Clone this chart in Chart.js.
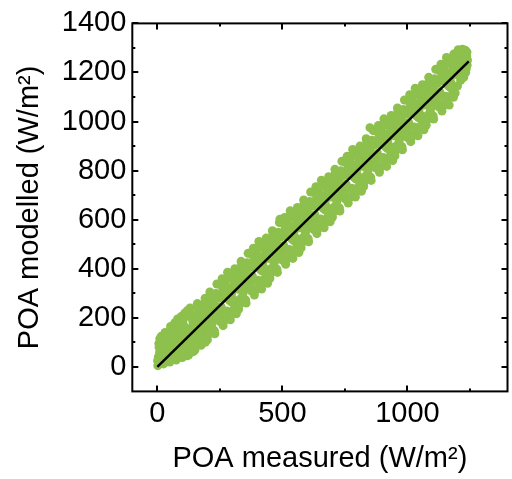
<!DOCTYPE html>
<html>
<head>
<meta charset="utf-8">
<script src="https://cdn.jsdelivr.net/npm/chart.js@4"></script>
<style>
  html, body { margin: 0; padding: 0; background: #fff; }
  #poaChart { display: block; }
</style>
</head>
<body>
<canvas id="poaChart" width="512" height="479"></canvas>
<script>
// POA measured vs modelled (W/m2)
const measured = [
    2, 4, 7, 10, 13, 16, 19,
    25, 28, 31, 35, 38, 41, 44,
    50, 53, 57, 60, 64, 67, 70,
    75, 78, 81, 85, 88, 92, 95,
    100, 103, 106, 110, 113, 116, 119,
    125, 128, 131, 135, 138, 141, 144,
    150, 153, 156, 160, 163, 166, 169,
    175, 178, 181, 185, 188, 191, 194,
    200, 203, 206, 210, 213, 216, 220,
    225, 228, 231, 235, 238, 241, 245,
    250, 253, 256, 260, 263, 266, 270,
    275, 278, 281, 285, 288, 291, 295,
    300, 303, 306, 310, 313, 316, 320,
    325, 328, 331, 335, 338, 341, 345,
    350, 353, 356, 360, 363, 366, 370,
    375, 378, 381, 385, 388, 391, 395,
    400, 403, 406, 410, 413, 416, 420,
    425, 428, 431, 435, 438, 441, 445,
    450, 453, 456, 460, 463, 466, 470,
    475, 478, 481, 485, 488, 491, 495,
    500, 503, 506, 510, 513, 516, 520,
    525, 528, 531, 535, 538, 541, 545,
    550, 553, 556, 560, 563, 566, 570,
    575, 578, 581, 585, 588, 591, 595,
    600, 603, 606, 610, 613, 616, 620,
    625, 628, 631, 635, 638, 641, 645,
    650, 653, 656, 660, 663, 666, 670,
    675, 678, 681, 685, 688, 691, 695,
    700, 703, 706, 710, 713, 716, 720,
    725, 728, 731, 735, 738, 741, 745,
    750, 753, 756, 760, 763, 766, 770,
    775, 778, 781, 785, 788, 791, 795,
    800, 803, 806, 810, 813, 816, 820,
    825, 828, 831, 835, 838, 841, 845,
    850, 853, 856, 860, 863, 866, 870,
    875, 878, 881, 885, 888, 891, 895,
    900, 903, 906, 910, 913, 916, 920,
    925, 928, 931, 935, 938, 941, 945,
    950, 953, 956, 960, 963, 966, 970,
    975, 978, 981, 985, 988, 991, 995,
    1000, 1003, 1006, 1010, 1013, 1016, 1020,
    1025, 1028, 1031, 1035, 1038, 1041, 1045,
    1050, 1053, 1056, 1060, 1063, 1066, 1070,
    1075, 1078, 1081, 1085, 1088, 1091, 1095,
    1100, 1103, 1106, 1110, 1113, 1116, 1120,
    1125, 1128, 1131, 1135, 1138, 1141, 1145,
    1150, 1153, 1156, 1160, 1163, 1166, 1170,
    1175, 1178, 1181, 1185, 1188, 1191, 1195,
    1200, 1203, 1206, 1210, 1213, 1216, 1220,
    1225, 1228, 1231, 1235, 1238, 1240,
    490, 850,
    // second pass of points between the first ones
    1, 6, 9, 14, 18,
    26, 30, 34, 37, 43,
    51, 55, 59, 63, 68,
    76, 80, 84, 89, 94, 96,
    101, 105, 108, 112, 118, 121,
    126, 130, 133, 137, 142, 146,
    151, 155, 158, 162, 167, 171,
    176, 180, 184, 187, 192, 196,
    201, 205, 209, 212, 217, 222,
    226, 230, 234, 237, 242, 247,
    251, 255, 259, 262, 267, 272,
    276, 280, 284, 287, 292, 297,
    301, 305, 309, 312, 317, 322,
    326, 330, 334, 337, 342, 347,
    351, 355, 359, 362, 367, 372,
    376, 380, 384, 387, 392, 397,
    401, 405, 409, 412, 417, 422,
    426, 430, 434, 437, 442, 447,
    451, 455, 459, 462, 467, 472,
    476, 480, 484, 487, 492, 497,
    501, 505, 509, 512, 517, 522,
    526, 530, 534, 537, 542, 547,
    551, 555, 559, 562, 567, 572,
    576, 580, 584, 587, 592, 597,
    601, 605, 609, 612, 617, 622,
    626, 630, 634, 637, 642, 647,
    651, 655, 659, 662, 667, 672,
    676, 680, 684, 687, 692, 697,
    701, 705, 709, 712, 717, 722,
    726, 730, 734, 737, 742, 747,
    751, 755, 759, 762, 767, 772,
    776, 780, 784, 787, 792, 797,
    801, 805, 809, 812, 817, 822,
    826, 830, 834, 837, 842, 847,
    851, 855, 859, 862, 867, 872,
    876, 880, 884, 887, 892, 897,
    901, 905, 909, 912, 917, 922,
    926, 930, 934, 937, 942, 947,
    951, 955, 959, 962, 967, 972,
    976, 980, 984, 987, 992, 997,
    1001, 1005, 1009, 1012, 1017, 1022,
    1026, 1030, 1034, 1037, 1042, 1047,
    1051, 1055, 1059, 1062, 1067, 1072,
    1076, 1080, 1084, 1087, 1092, 1097,
    1101, 1105, 1109, 1112, 1117, 1122,
    1126, 1130, 1134, 1137, 1142, 1147,
    1151, 1155, 1159, 1162, 1167, 1172,
    1176, 1180, 1184, 1187, 1192, 1197,
    1201, 1205, 1209, 1212, 1218,
    1226, 1229, 1233, 1237, 1239
];
const modelled = [
    5, 40, 80, 115, 20, 125, 60,
    12, 95, 140, 50, 120, 25, 70,
    20, 165, 100, 45, 135, 75, 180,
    28, 115, 195, 65, 150, 40, 205,
    38, 175, 105, 220, 70, 145, 45,
    48, 120, 240, 85, 200, 165, 62,
    68, 212, 130, 258, 98, 176, 235,
    88, 250, 150, 205, 118, 280, 178,
    110, 223, 151, 305, 198, 271, 185,
    285, 148, 236, 195, 338, 231, 280,
    185, 338, 231, 300, 168, 281, 340,
    300, 228, 386, 200, 283, 366, 265,
    280, 353, 236, 400, 323, 216, 385,
    235, 348, 276, 430, 323, 396, 310,
    410, 273, 361, 320, 463, 356, 405,
    310, 463, 356, 425, 293, 406, 465,
    425, 353, 511, 325, 408, 491, 390,
    405, 478, 361, 525, 448, 341, 510,
    360, 473, 401, 555, 448, 521, 435,
    535, 398, 486, 445, 588, 481, 530,
    435, 588, 481, 550, 418, 531, 590,
    550, 478, 636, 450, 533, 616, 515,
    530, 603, 486, 650, 573, 466, 635,
    485, 598, 526, 680, 573, 646, 560,
    660, 523, 611, 570, 713, 606, 655,
    560, 713, 606, 675, 543, 656, 715,
    675, 603, 761, 575, 658, 741, 640,
    655, 728, 611, 775, 698, 591, 760,
    610, 723, 651, 805, 698, 771, 685,
    785, 648, 736, 695, 838, 731, 780,
    685, 838, 731, 800, 668, 781, 840,
    800, 728, 886, 700, 783, 866, 765,
    780, 853, 736, 900, 823, 716, 885,
    735, 848, 776, 930, 823, 896, 810,
    910, 773, 861, 820, 963, 856, 905,
    810, 963, 856, 925, 793, 906, 965,
    925, 853, 1011, 825, 908, 991, 890,
    905, 978, 861, 1025, 948, 841, 1010,
    860, 973, 901, 1055, 948, 1021, 935,
    1035, 898, 986, 945, 1088, 981, 1030,
    935, 1088, 981, 1050, 918, 1031, 1090,
    1050, 978, 1136, 950, 1033, 1116, 1015,
    1030, 1103, 986, 1150, 1073, 966, 1135,
    985, 1098, 1026, 1180, 1073, 1146, 1060,
    1160, 1023, 1111, 1070, 1213, 1106, 1155,
    1060, 1213, 1106, 1175, 1043, 1166, 1215,
    1175, 1103, 1261, 1075, 1158, 1241, 1140,
    1155, 1228, 1121, 1275, 1198, 1116, 1260,
    1145, 1293, 1186, 1270, 1168, 1236, 1295,
    1180, 1258, 1291, 1215, 1283, 1250,
    602, 975,
    // second pass
    25, 95, 60, 100, 45,
    60, 110, 20, 85, 130,
    85, 140, 30, 110, 150,
    90, 170, 45, 125, 180, 75,
    120, 195, 60, 160, 100, 230,
    100, 210, 140, 65, 185, 120,
    150, 90, 190, 240, 120, 210,
    130, 230, 175, 260, 100, 215,
    126, 250, 204, 292, 172, 232,
    256, 135, 299, 212, 242, 337,
    201, 245, 359, 317, 187, 297,
    361, 220, 324, 272, 192, 302,
    266, 380, 224, 332, 377, 317,
    251, 375, 329, 417, 297, 357,
    381, 260, 424, 337, 367, 462,
    326, 370, 484, 442, 312, 422,
    486, 345, 449, 397, 317, 427,
    391, 505, 349, 457, 502, 442,
    376, 500, 454, 542, 422, 482,
    506, 385, 549, 462, 492, 587,
    451, 495, 609, 567, 437, 547,
    611, 470, 574, 522, 442, 552,
    516, 630, 474, 582, 627, 567,
    501, 625, 579, 667, 547, 607,
    631, 510, 674, 587, 617, 712,
    576, 620, 734, 692, 562, 672,
    736, 595, 699, 647, 567, 677,
    641, 755, 599, 707, 752, 692,
    626, 750, 704, 792, 672, 732,
    756, 635, 799, 712, 742, 837,
    701, 745, 859, 817, 687, 797,
    861, 720, 824, 772, 692, 802,
    766, 880, 724, 832, 877, 817,
    751, 875, 829, 917, 797, 857,
    881, 760, 924, 837, 867, 962,
    826, 870, 984, 942, 812, 922,
    986, 845, 949, 897, 817, 927,
    891, 1005, 849, 957, 1002, 942,
    876, 1000, 954, 1042, 922, 982,
    1006, 885, 1049, 962, 992, 1087,
    951, 995, 1109, 1067, 937, 1047,
    1111, 970, 1074, 1022, 942, 1052,
    1016, 1130, 974, 1082, 1127, 1067,
    1001, 1125, 1079, 1167, 1047, 1107,
    1131, 1010, 1174, 1087, 1117, 1212,
    1076, 1120, 1234, 1192, 1062, 1172,
    1236, 1095, 1199, 1147, 1067, 1177,
    1141, 1255, 1099, 1207, 1252, 1192,
    1230, 1195, 1255, 1280, 1180,
    1220, 1275, 1200, 1265, 1230
];

// 1:1 line end points
const fitX = [0, 1245];
const fitY = [0, 1245];

// Axis ticks
const xTicks = [0, 500, 1000];
const xMinorTicks = [250, 750, 1250];
const yTicks = [0, 200, 400, 600, 800, 1000, 1200, 1400];
const yMinorTicks = [100, 300, 500, 700, 900, 1100, 1300];

const FONT = '"Liberation Sans", Arial, sans-serif';
const GREEN = 'rgb(141, 192, 76)';

// Closed frame with inward ticks on all four sides
const frameTicks = {
    id: 'frameTicks',
    afterDatasetsDraw(chart) {
        const { ctx, chartArea: a, scales: { x, y } } = chart;
        ctx.save();
        ctx.strokeStyle = '#000';
        ctx.lineWidth = 2;
        ctx.beginPath();
        const xMark = (v, len) => {
            const px = Math.round(x.getPixelForValue(v));
            ctx.moveTo(px, a.bottom); ctx.lineTo(px, a.bottom - len);
            ctx.moveTo(px, a.top); ctx.lineTo(px, a.top + len);
        };
        const yMark = (v, len) => {
            const py = Math.round(y.getPixelForValue(v));
            ctx.moveTo(a.left, py); ctx.lineTo(a.left + len, py);
            ctx.moveTo(a.right, py); ctx.lineTo(a.right - len, py);
        };
        xTicks.forEach(v => xMark(v, 6));
        xMinorTicks.forEach(v => xMark(v, 3));
        yTicks.forEach(v => yMark(v, 6));
        yMinorTicks.forEach(v => yMark(v, 3));
        ctx.stroke();
        ctx.strokeRect(a.left, a.top, a.right - a.left, a.bottom - a.top);
        ctx.restore();
    }
};

const points = measured.map((m, i) => ({ x: m, y: modelled[i] }));
const fitLine = fitX.map((v, i) => ({ x: v, y: fitY[i] }));

new Chart(document.getElementById('poaChart'), {
    type: 'scatter',
    data: {
        datasets: [{
            type: 'line',
            data: fitLine,
            borderColor: '#000',
            borderWidth: 2.5,
            pointRadius: 0,
            fill: false
        }, {
            data: points,
            backgroundColor: GREEN,
            borderWidth: 0,
            pointRadius: 4.5
        }]
    },
    options: {
        responsive: false,
        animation: false,
        devicePixelRatio: 1,
        layout: { padding: { top: 22, right: 2, left: 0, bottom: 0 } },
        plugins: {
            legend: { display: false },
            tooltip: { enabled: false }
        },
        scales: {
            x: {
                type: 'linear',
                min: -100,
                max: 1400,
                grid: { display: false, drawTicks: false },
                border: { display: false },
                afterBuildTicks: s => { s.ticks = xTicks.map(v => ({ value: v })); },
                ticks: {
                    color: '#000', padding: 5,
                    font: { family: FONT, size: 29 },
                    callback: v => String(v)
                },
                title: {
                    display: true,
                    text: 'POA measured (W/m²)',
                    color: '#000',
                    font: { family: FONT, size: 29 },
                    padding: { top: 5, bottom: 3 }
                }
            },
            y: {
                type: 'linear',
                min: -100,
                max: 1400,
                grid: { display: false, drawTicks: false },
                border: { display: false },
                afterBuildTicks: s => { s.ticks = yTicks.map(v => ({ value: v })); },
                ticks: {
                    color: '#000', padding: 6,
                    font: { family: FONT, size: 29 },
                    callback: v => String(v)
                },
                title: {
                    display: true,
                    text: 'POA modelled (W/m²)',
                    color: '#000',
                    font: { family: FONT, size: 29 },
                    padding: { top: 13, bottom: 8 }
                }
            }
        }
    },
    plugins: [frameTicks]
});
</script>
</body>
</html>
